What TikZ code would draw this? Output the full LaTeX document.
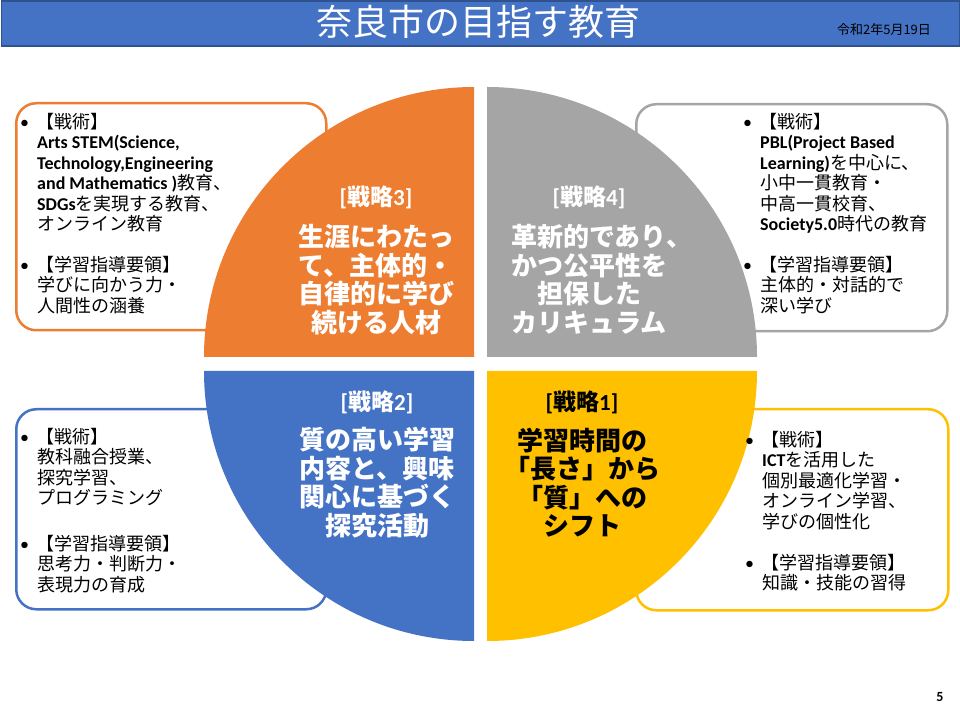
\documentclass[tikz,border=0pt]{standalone}
\usepackage{fontspec}
\setmainfont{Noto Sans CJK JP}
\newfontfamily\lat{Carlito}
\definecolor{cOrange}{HTML}{ED7D31}
\definecolor{cGray}{HTML}{A5A5A5}
\definecolor{cBlue}{HTML}{4472C4}
\definecolor{cYellow}{HTML}{FFC000}
\definecolor{cBorder}{HTML}{2F528F}
\newcommand\bulitem{\llap{{\lat •}\hspace{8pt}}\kern-1pt}
\newcommand\senryaku[1]{{\lat\bfseries [}戦略{\lat\bfseries #1]}}
\begin{document}
\begin{tikzpicture}[x=1pt,y=1pt,
  infobox/.style={draw, line width=2.5pt, rounded corners=20pt, fill=white, inner sep=0, anchor=north west},
  btext/.style={anchor=north west, inner sep=0, align=left, font=\fontsize{18}{20.5}\selectfont},
  qtext/.style={align=center, inner sep=0, font=\fontsize{26}{28.5}\selectfont\bfseries},
  qlabel/.style={inner sep=0, font=\fontsize{23}{25}\selectfont\bfseries},
]
\useasboundingbox (0,0) rectangle (960,720);
\fill[white] (0,0) rectangle (960,720);
% title bar
\node[fill=cBlue, draw=cBorder, line width=1.2pt, minimum width=958, minimum height=45, inner sep=0, anchor=north west] (bar) at (1,719.5) {};
\node[text=white, inner sep=0, font=\fontsize{36}{40}\selectfont] (title) at (478,698) {奈良市の目指す教育};
\node[inner sep=0, font=\fontsize{13}{14}\selectfont] (date) at (884,690) {令和2年5月19日};
% info boxes
\node[infobox, draw=cOrange, minimum width=310, minimum height=227] (box3) at (15,618) {};
\node[infobox, draw=cGray, minimum width=311, minimum height=227] (box4) at (635,617) {};
\node[infobox, draw=cBlue, minimum width=310, minimum height=200] (box2) at (15,312) {};
\node[infobox, draw=cYellow, minimum width=312, minimum height=201] (box1) at (635,312) {};
% quarters
\fill[cOrange] (474,363) -- ++(180:270) arc (180:90:270) -- cycle;
\fill[cGray] (487,363) -- ++(0:270) arc (0:90:270) -- cycle;
\fill[cBlue] (474,349) -- ++(180:270) arc (180:270:270) -- cycle;
\fill[cYellow] (487,349) -- ++(0:270) arc (0:-90:270) -- cycle;
% quarter texts
\node[qlabel, text=white] (l3) at (376,523) {\senryaku{3}};
\node[qtext, text=white] (q3) at (376,440.5) {生涯にわたっ\\て、主体的・\\自律的に学び\\続ける人材};
\node[qlabel, text=white] (l4) at (589,523) {\senryaku{4}};
\node[qtext, text=white] (q4) at (589,440.5) {革新的であり\rlap{、}\\かつ公平性を\\担保した\\カリキュラム};
\node[qlabel, text=white] (l2) at (377,318) {\senryaku{2}};
\node[qtext, text=white] (q2) at (377,237.5) {質の高い学習\\内容と、興味\\関心に基づく\\探究活動};
\node[qlabel, text=black] (l1) at (582,318) {\senryaku{1}};
\node[qtext, text=black] (q1) at (582,237.5) {学習時間の\\「長さ」から\\「質」への\\シフト};
% box texts
\node[btext] (t3a) at (37,607) {\bulitem【戦術】\\{\lat\bfseries Arts STEM(Science,}\\{\lat\bfseries Technology,Engineering}\\{\lat\bfseries and Mathematics )}教育、\\{\lat\bfseries SDGs}を実現する教育、\\オンライン教育};
\node[btext] (t3b) at (37,464) {\bulitem【学習指導要領】\\学びに向かう力・\\人間性の涵養};
\node[btext] (t4a) at (760,607) {\bulitem【戦術】\\{\lat\bfseries PBL(Project Based}\\{\lat\bfseries Learning)}を中心に、\\小中一貫教育・\\中高一貫校育、\\{\lat\bfseries Society5.0}時代の教育};
\node[btext] (t4b) at (760,464) {\bulitem【学習指導要領】\\主体的・対話的で\\深い学び};
\node[btext] (t2a) at (37,292) {\bulitem【戦術】\\教科融合授業、\\探究学習、\\プログラミング};
\node[btext] (t2b) at (37,185) {\bulitem【学習指導要領】\\思考力・判断力・\\表現力の育成};
\node[btext] (t1a) at (762,289) {\bulitem【戦術】\\{\lat\bfseries ICT}を活用した\\個別最適化学習・\\オンライン学習、\\学びの個性化};
\node[btext] (t1b) at (762,166) {\bulitem【学習指導要領】\\知識・技能の習得};
% page number
\node[inner sep=0, font=\lat\bfseries\fontsize{14}{16}\selectfont] (page) at (940,23) {5};
\end{tikzpicture}
\end{document}
